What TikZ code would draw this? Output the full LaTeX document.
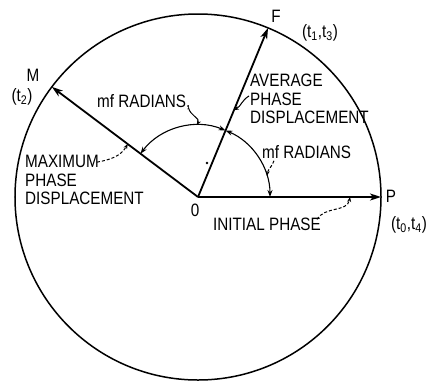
\documentclass[tikz,border=0pt]{standalone}
\usepackage{fontspec}
\setmainfont{Liberation Sans}[FakeStretch=0.85]
\usepackage{tikz}
\usetikzlibrary{arrows.meta}

\begin{document}
\begin{tikzpicture}[
    x=1bp, y=1bp,
    lbl/.style={font=\fontsize{18}{18.5}\selectfont, inner sep=0pt, align=left},
    vec/.style={-{Stealth[length=11bp, width=7bp, inset=3bp]}, line width=1.8bp},
    marc/.style={{Stealth[length=7bp, width=5bp]}-{Stealth[length=7bp, width=5bp]}, line width=1.1bp},
    lead/.style={-{Stealth[length=5bp, width=4bp]}, line width=1bp},
    dlead/.style={lead, dash pattern=on 3bp off 2bp}
]
\useasboundingbox (-198,-184) rectangle (237,197);

\coordinate (O) at (0,0);
\draw[line width=1.5bp] (O) circle[radius=183];

% phasors
\coordinate (P) at (0:183);
\coordinate (F) at (67.5:183);
\coordinate (M) at (143:183);
\draw[vec] (O) -- (P);
\draw[vec] (O) -- (F);
\draw[vec] (O) -- (M);

% angle arcs
\draw[marc] (0:72) arc[start angle=0, end angle=67.5, radius=72];
\draw[marc] (67.5:72) arc[start angle=67.5, end angle=143, radius=72];
\fill (9,34) circle[radius=1.3bp];

% points on the lines and arcs
\coordinate (a1) at (91:72);
\coordinate (a2) at (17:72);
\coordinate (mm) at (143:88);
\coordinate (ff) at (67.5:94);
\coordinate (pp) at (152,0);

\node[lbl] (o) at (-3,-13) {0};
\node[lbl] (pl) at (193,1) {P};
\node[lbl] (pt) at (211,-28) {(t\textsubscript{0},t\textsubscript{4})};
\node[lbl] (fl) at (78,181) {F};
\node[lbl] (ft) at (122,164) {(t\textsubscript{1},t\textsubscript{3})};
\node[lbl] (ml) at (-165,122) {M};
\node[lbl] (mt) at (-176,100) {(t\textsubscript{2})};

\node[lbl, anchor=west] (rad1) at (-101,95) {mf RADIANS,};
\node[lbl, anchor=west] (rad2) at (64,45) {mf RADIANS};
\node[lbl, anchor=west] (maxd) at (-173,17) {MAXIMUM\\PHASE\\DISPLACEMENT};
\node[lbl, anchor=west] (avgd) at (52,98) {AVERAGE\\PHASE\\DISPLACEMENT};
\node[lbl, anchor=west] (init) at (15,-27) {INITIAL PHASE};

\draw[lead] (rad1.south east) ++(-2,2) to[out=-80, in=60] (a1);
\draw[dlead] (rad2.south west) ++(12,-2) to[out=-110, in=80] (a2);
\draw[dlead] (maxd.north west) ++(72,-7) to[out=10, in=-120] (mm);
\draw[lead] (avgd.west) ++(-1,3) to[out=-150, in=30] (ff);
\draw[dlead] (init.north east) ++(-4,-2) to[out=60, in=-100] (pp);

\end{tikzpicture}
\end{document}
